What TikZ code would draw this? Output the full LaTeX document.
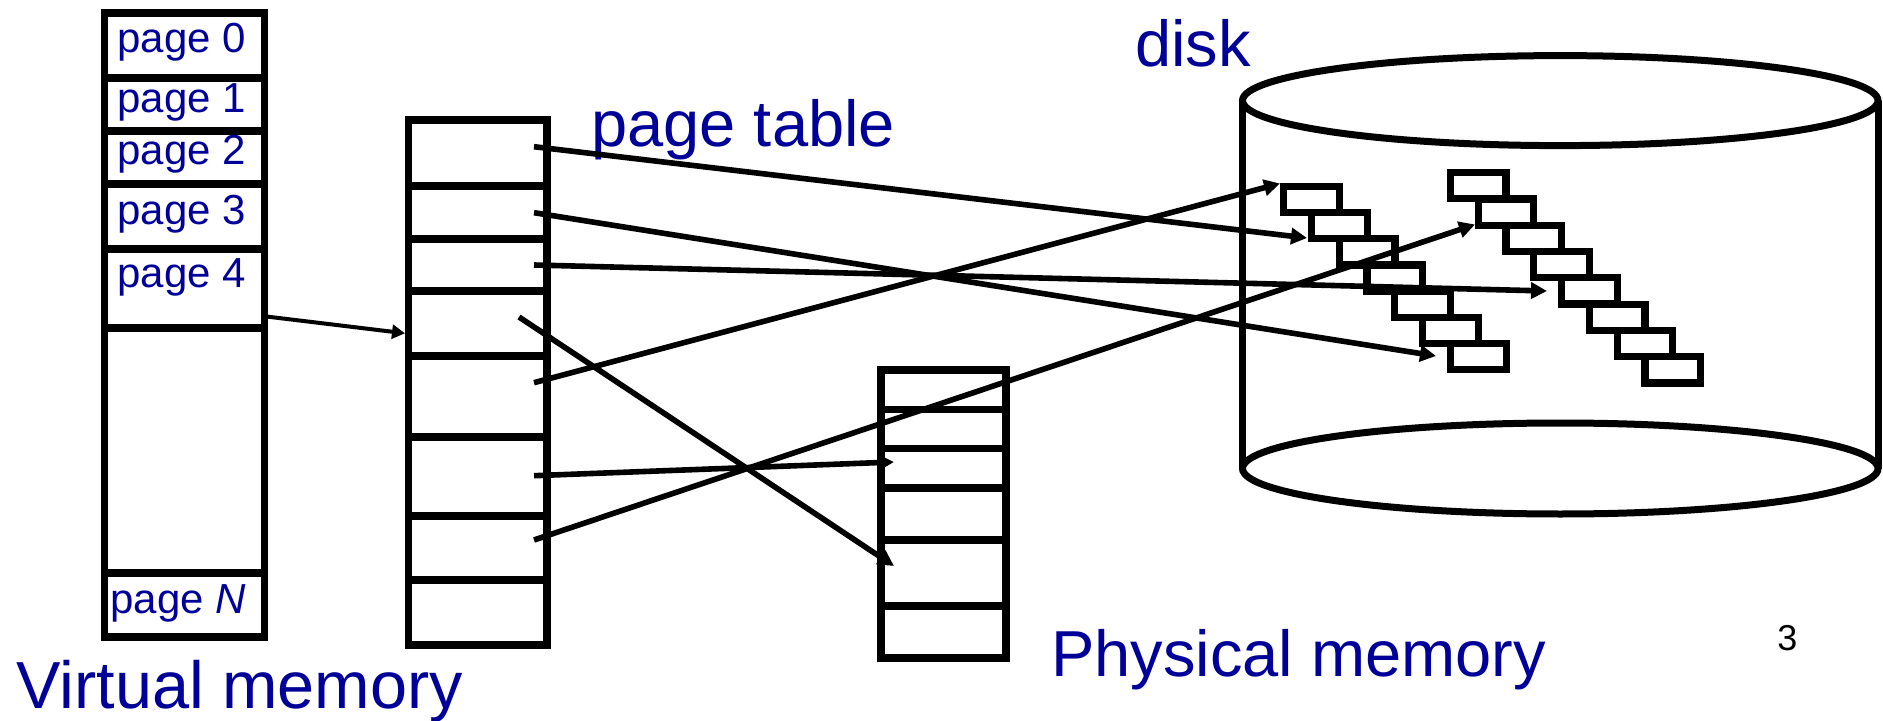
\documentclass[tikz,border=0pt]{standalone}
\usepackage{fontspec}
\setmainfont{Liberation Sans}
\usetikzlibrary{arrows.meta}
\definecolor{lblue}{RGB}{0,0,153}
\begin{document}
\begin{tikzpicture}[x=0.5pt,y=-0.5pt,
  box/.style={line width=3.65pt},
  conn/.style={line width=2.8pt,-{Triangle[length=8pt,width=8pt]}},
  vconn/.style={line width=2pt,-{Triangle[length=6.5pt,width=7pt]}},
  cyl/.style={line width=3.5pt},
  blk/.style={line width=3.6pt},
  lbl/.style={inner sep=0pt,anchor=base west,text=lblue,font=\fontsize{32.5}{36}\selectfont},
  plbl/.style={inner sep=0pt,anchor=base west,text=lblue,font=\fontsize{21}{24}\selectfont}]
\useasboundingbox (0,0) rectangle (1883,721);

% virtual memory column
\draw[box] (104.5,13) rectangle (264.5,637);
\foreach \y in {78,131,184,249,328,573} \draw[box] (104.5,\y) -- (264.5,\y);
\node[plbl] (p0) at (117,53) {page 0};
\node[plbl] (p1) at (117,113) {page 1};
\node[plbl] (p2) at (117,165) {page 2};
\node[plbl] (p3) at (117,225) {page 3};
\node[plbl] (p4) at (117,288) {page 4};
\node[plbl] (pN) at (110,613) {page {\itshape N}};
\node[lbl,font=\fontsize{33.3}{36}\selectfont] (vm) at (16,708) {Virtual memory};

% page table
\draw[box] (408.5,120) rectangle (547,645);
\foreach \y in {186,239,291,356,437,516,580} \draw[box] (408.5,\y) -- (547,\y);
\node[lbl] (pt) at (591,146.7) {page table};

% physical memory
\draw[box] (881,370) rectangle (1006,658);
\foreach \y in {409.5,448.5,488,540,606} \draw[box] (881,\y) -- (1006,\y);
\node[lbl] (pm) at (1051,676.7) {Physical memory};

% disk
\draw[cyl] (1560.25,100.6) ellipse [x radius=317.75, y radius=45];
\draw[cyl] (1560.25,468.5) ellipse [x radius=317.75, y radius=45.5];
\draw[cyl] (1242.5,100.6) -- (1242.5,468.5);
\draw[cyl] (1878,100.6) -- (1878,468.5);
\node[lbl] (dk) at (1135,66.7) {disk};

% disk blocks
\foreach \i in {0,...,6}
  \draw[blk] ({1280+27.8*\i+3.65},{182.7+26.2*\i+3.65}) rectangle ++(55.7,26.2);
\foreach \i in {0,...,7}
  \draw[blk] ({1446.7+27.8*\i+3.65},{169+26.3*\i+3.65}) rectangle ++(55.7,26.2);

% slide number
\node[inner sep=0pt,anchor=base west,font=\fontsize{18}{20}\selectfont] (num) at (1777,650) {3};

% connector end points
\coordinate (v4) at (268,316.7);
\coordinate (ptin) at (405,333.3);
\coordinate (s1) at (534,146.7);
\coordinate (s2) at (534,212.7);
\coordinate (s3) at (534,265);
\coordinate (s4) at (519,317);
\coordinate (s5) at (534,382.7);
\coordinate (s6) at (534,475.7);
\coordinate (s7) at (534,540);
\coordinate (t1) at (1307,238);
\coordinate (t2) at (1436,356);
\coordinate (t3) at (1547,291);
\coordinate (t4) at (894,566);
\coordinate (t5) at (1280,183.5);
\coordinate (t6) at (894,462);
\coordinate (t7) at (1475,224.5);

\draw[vconn] (v4) -- (ptin);
\draw[conn] (s1) -- (t1);
\draw[conn] (s2) -- (t2);
\draw[conn] (s3) -- (t3);
\draw[conn] (s4) -- (t4);
\draw[conn] (s5) -- (t5);
\draw[conn] (s6) -- (t6);
\draw[conn] (s7) -- (t7);
\end{tikzpicture}
\end{document}
